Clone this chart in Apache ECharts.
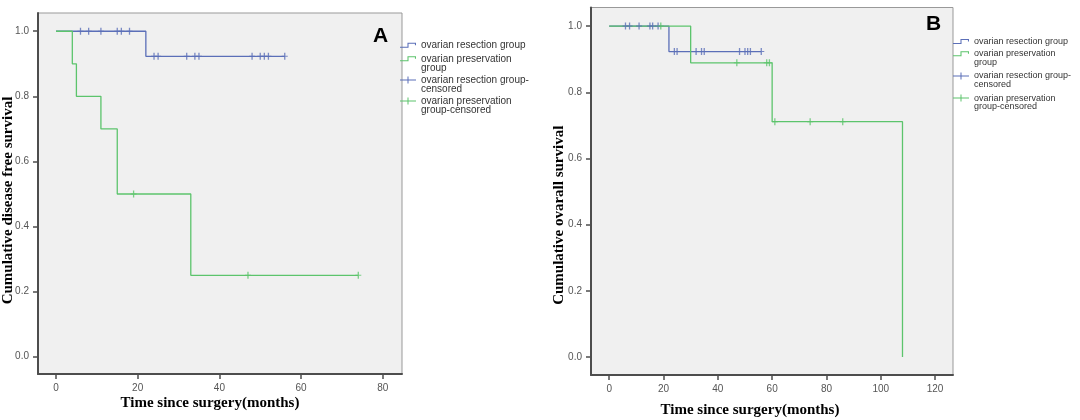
<!DOCTYPE html>
<html>
<head>
<meta charset="utf-8">
<script src="https://cdn.jsdelivr.net/npm/echarts@6/dist/echarts.min.js"></script>
<style>
  html, body { margin: 0; padding: 0; background: #ffffff; }
  #chart { width: 1080px; height: 420px; }
</style>
</head>
<body>
<div id="chart"></div>
<script>
// tick labels
const xTicksA = [0, 20, 40, 60, 80];
const xTicksB = [0, 20, 40, 60, 80, 100, 120];
const yTicks = [0, 0.2, 0.4, 0.6, 0.8, 1.0];

// legend / series names
const nameRes = 'ovarian resection group';
const namePre = 'ovarian preservation group';
const nameResC = 'ovarian resection group-censored';
const namePreC = 'ovarian preservation group-censored';

// panel A: disease free survival (step points = event times, survival after event)
const aResTimes = [0, 22, 56];
const aResSurv = [1, 0.923, 0.923];
const aResCensTimes = [6, 8, 11, 15, 16, 18, 24, 25, 32, 34, 35, 48, 50, 51, 52, 56];
const aResCensSurv = [1, 1, 1, 1, 1, 1, 0.923, 0.923, 0.923, 0.923, 0.923, 0.923, 0.923, 0.923, 0.923, 0.923];
const aPreTimes = [0, 4, 5, 11, 15, 33, 74];
const aPreSurv = [1, 0.9, 0.8, 0.7, 0.5, 0.25, 0.25];
const aPreCensTimes = [19, 47, 74];
const aPreCensSurv = [0.5, 0.25, 0.25];

// panel B: overall survival
const bResTimes = [0, 22, 56];
const bResSurv = [1, 0.923, 0.923];
const bResCensTimes = [6, 7.5, 11, 15, 16, 18, 24, 25, 32, 34, 35, 48, 50, 51, 52, 56];
const bResCensSurv = [1, 1, 1, 1, 1, 1, 0.923, 0.923, 0.923, 0.923, 0.923, 0.923, 0.923, 0.923, 0.923, 0.923];
const bPreTimes = [0, 30, 60, 108];
const bPreSurv = [1, 0.889, 0.711, 0];
const bPreCensTimes = [19, 47, 58, 59, 61, 74, 86];
const bPreCensSurv = [1, 0.889, 0.889, 0.889, 0.711, 0.711, 0.711];

const BLUE = '#5b6fb8';
const GREEN = '#5cc46c';
const SANS = '"Liberation Sans", Arial, sans-serif';
const SERIF = '"Liberation Serif", "Times New Roman", serif';

const zip = (xs, ys) => xs.map((x, i) => [x, ys[i]]);

const PLUS = 'path://M2.35,0 H3.65 V3 H6 V4 H3.65 V7 H2.35 V4 H0 V3 H2.35 Z';

// legend icons are drawn in a box two text lines tall so the glyph can sit
// on the first line of a wrapped label (c = glyph centre, h = box height)
function stepIcon(c, h) {
  return `path://M0,${c + 1.5} H7 V${c - 2.5} H15 V${c} H14 V${c - 1.5} H8 V${c + 2.5} H0 Z` +
    ` M0,0 L0.01,0 M0,${h} L0.01,${h}`;
}
function censIcon(c, h) {
  return `path://M0,${c - 0.5} H7.5 V${c - 3.5} H8.5 V${c - 0.5} H16 V${c + 0.5} H8.5 V${c + 3.5} H7.5 V${c + 0.5} H0 Z` +
    ` M0,0 L0.01,0 M0,${h} L0.01,${h}`;
}

const legendLabels = {
  [nameRes]: 'ovarian resection group',
  [namePre]: 'ovarian preservation\ngroup',
  [nameResC]: 'ovarian resection group-\ncensored',
  [namePreC]: 'ovarian preservation\ngroup-censored',
};

function xAxis(gridIndex, min, max, ticks, title, gap, shift) {
  return {
    type: 'value', gridIndex, min, max,
    name: title, nameLocation: 'middle', nameGap: gap, nameMoveOverlap: false,
    nameTextStyle: { fontFamily: SERIF, fontWeight: 'bold', fontSize: 15, color: '#000', padding: [0, shift, 0, 0] },
    axisLine: { onZero: false, lineStyle: { color: '#4d4d4d', width: 2 } },
    axisTick: { customValues: ticks, length: 5, lineStyle: { color: '#4d4d4d', width: 1.5 } },
    axisLabel: { customValues: ticks, margin: 9, fontFamily: SANS, fontSize: 10, color: '#555' },
    splitLine: { show: false },
  };
}

function yAxis(gridIndex, min, max, title, gap, shift) {
  return {
    type: 'value', gridIndex, min, max,
    name: title, nameLocation: 'middle', nameGap: gap, nameMoveOverlap: false,
    nameTextStyle: { fontFamily: SERIF, fontWeight: 'bold', fontSize: 15, color: '#000', padding: [0, shift, 0, 0] },
    axisLine: { onZero: false, lineStyle: { color: '#4d4d4d', width: 2 } },
    axisTick: { customValues: yTicks, length: 5, lineStyle: { color: '#4d4d4d', width: 1.5 } },
    axisLabel: { customValues: yTicks, margin: 9, fontFamily: SANS, fontSize: 10, color: '#555', formatter: (v) => v.toFixed(1) },
    splitLine: { show: false },
  };
}

const legendItems = {
  [nameRes]: { color: BLUE, multi: false, icon: stepIcon },
  [namePre]: { color: GREEN, multi: true, icon: stepIcon },
  [nameResC]: { color: BLUE, multi: true, icon: censIcon },
  [namePreC]: { color: GREEN, multi: true, icon: censIcon },
};

function legend(names, left, top, fontSize, lh, gap) {
  const h = 2 * lh;
  return {
    orient: 'vertical', left, top, padding: 0, itemGap: gap,
    itemWidth: 16, itemHeight: h, symbolKeepAspect: false, selectedMode: false,
    textStyle: { fontFamily: SANS, fontSize, lineHeight: lh, color: '#333' },
    formatter: (n) => legendLabels[n],
    data: names.map((name) => {
      const it = legendItems[name];
      return {
        name,
        icon: it.icon(it.multi ? lh / 2 : h / 2, h),
        itemStyle: { color: it.color, borderWidth: 0, opacity: 1 },
      };
    }),
  };
}

function stepSeries(name, idx, times, surv, color) {
  return {
    name, type: 'line', xAxisIndex: idx, yAxisIndex: idx,
    step: 'end', symbol: 'none', data: zip(times, surv),
    lineStyle: { color, width: 1.3 }, itemStyle: { color }, z: 2,
  };
}

function censSeries(name, idx, times, surv, color) {
  return {
    name, type: 'scatter', xAxisIndex: idx, yAxisIndex: idx,
    symbol: PLUS, symbolSize: [6, 7], data: zip(times, surv),
    itemStyle: { color }, z: 3,
  };
}

const chart = echarts.init(document.getElementById('chart'));
chart.setOption({
  animation: false,
  backgroundColor: '#ffffff',
  title: [
    { text: 'A', left: 373, top: 26, padding: 0, textStyle: { fontFamily: SANS, fontWeight: 'bold', fontSize: 21, color: '#000' } },
    { text: 'B', left: 926, top: 14, padding: 0, textStyle: { fontFamily: SANS, fontWeight: 'bold', fontSize: 21, color: '#000' } },
    { text: 'Survival Functions', left: 752, top: -13, padding: 0, textStyle: { fontFamily: SANS, fontWeight: 'normal', fontSize: 16, color: '#e8e8e8' } },
  ],
  legend: [
    legend([nameRes], 400, 35.8, 10, 9.5, 0),
    legend([namePre, nameResC, namePreC], 400, 53.8, 10, 9.5, 1.6),
    legend([nameRes], 953, 32.7, 9, 8.8, 0),
    legend([namePre, nameResC, namePreC], 953, 49.2, 9, 8.8, 4.4),
  ],
  grid: [
    { left: 38, top: 13, width: 364, height: 361, outerBoundsMode: 'none', show: true, backgroundColor: '#f0f0f0', borderColor: '#999', borderWidth: 1 },
    { left: 591, top: 7.5, width: 362, height: 367.5, outerBoundsMode: 'none', show: true, backgroundColor: '#f0f0f0', borderColor: '#999', borderWidth: 1 },
  ],
  xAxis: [
    xAxis(0, -4.4, 84.7, xTicksA, 'Time since surgery(months)', 21.5, 20),
    xAxis(1, -6.7, 126.6, xTicksB, 'Time since surgery(months)', 27.5, 44),
  ],
  yAxis: [
    yAxis(0, -0.053, 1.056, 'Cumulative disease free survival', 22, 14),
    yAxis(1, -0.054, 1.056, 'Cumulative ovarall survival', 24, 48),
  ],
  series: [
    stepSeries(nameRes, 0, aResTimes, aResSurv, BLUE),
    stepSeries(namePre, 0, aPreTimes, aPreSurv, GREEN),
    censSeries(nameResC, 0, aResCensTimes, aResCensSurv, BLUE),
    censSeries(namePreC, 0, aPreCensTimes, aPreCensSurv, GREEN),
    stepSeries(nameRes, 1, bResTimes, bResSurv, BLUE),
    stepSeries(namePre, 1, bPreTimes, bPreSurv, GREEN),
    censSeries(nameResC, 1, bResCensTimes, bResCensSurv, BLUE),
    censSeries(namePreC, 1, bPreCensTimes, bPreCensSurv, GREEN),
  ],
});
</script>
</body>
</html>
